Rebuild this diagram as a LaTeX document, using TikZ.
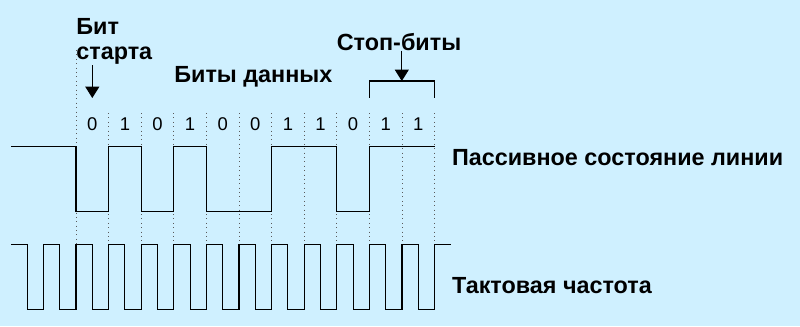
\documentclass[tikz,border=0pt]{standalone}
\usepackage{fontspec}
\setmainfont{Liberation Sans}
\definecolor{paper}{RGB}{207,240,255}
\definecolor{grid}{RGB}{90,90,90}
\usetikzlibrary{arrows.meta,positioning,calc}

\begin{document}
\begin{tikzpicture}[x=0.02cm,y=-0.02cm,
    label/.style={font=\bfseries\fontsize{13.3}{14.2}\selectfont,inner sep=0pt},
    digit/.style={font=\fontsize{10.5}{12}\selectfont,inner sep=0pt,anchor=base},
    wave/.style={black,line width=0.6pt},
    tick/.style={grid,dotted,line width=0.5pt},
    arr/.style={-{Triangle[width=8pt,length=6.5pt]},line width=0.6pt}]
  \fill[paper] (0,0) rectangle (800,326);
  \useasboundingbox (0,0) rectangle (800,326);
  % bit boundaries
  \foreach \k in {0,...,11} {
    \pgfmathsetmacro{\top}{\k==0 ? 50 : 113}
    \draw[tick] ({76+32.6*\k},\top) -- ({76+32.6*\k},244.3);
  }
  % bit values
  \foreach \b [count=\i from 0] in {0,1,0,1,0,0,1,1,0,1,1}
    \node[digit] (d\i) at ({76+32.6*\i+16.3},130.3) {\b};
  % line signal
  \draw[wave] (11,146.7) -- (76,146.7)
    foreach \b [count=\i from 0] in {0,1,0,1,0,0,1,1,0,1,1} {
      -- ({76+32.6*\i},{211.3-64.6*\b}) -- ({76+32.6*(\i+1)},{211.3-64.6*\b})
    };
  % clock
  \draw[wave] (11,244.3)
    foreach \k in {0,...,12} {
      -- ({27.1+32.6*\k},244.3) -- ({27.1+32.6*\k},309.3)
      -- ({43.4+32.6*\k},309.3) -- ({43.4+32.6*\k},244.3)
    } -- (450.7,244.3);
  % labels
  \node[label,align=left,anchor=north west] (start) at (76,18.3) {Бит\\старта};
  \node[label,anchor=base west] (data) at (174,82) {Биты данных};
  \node[label,anchor=base] (stop) at (399,50) {Стоп-биты};
  \node[label,anchor=base west] (line) at (451.7,165) {Пассивное состояние линии};
  \node[label,anchor=base west] (clock) at (451.7,293) {Тактовая частота};
  % arrows
  \coordinate (startarr) at (92.3,98);
  \draw[arr] (92.3,65) -- (startarr);
  \coordinate (brk) at (401.8,81);
  \draw[wave] (369.4,97.7) -- (369.4,81) -- (434.6,81) -- (434.6,97.7);
  \draw[arr] (stop.south -| brk) -- (brk);
\end{tikzpicture}
\end{document}
